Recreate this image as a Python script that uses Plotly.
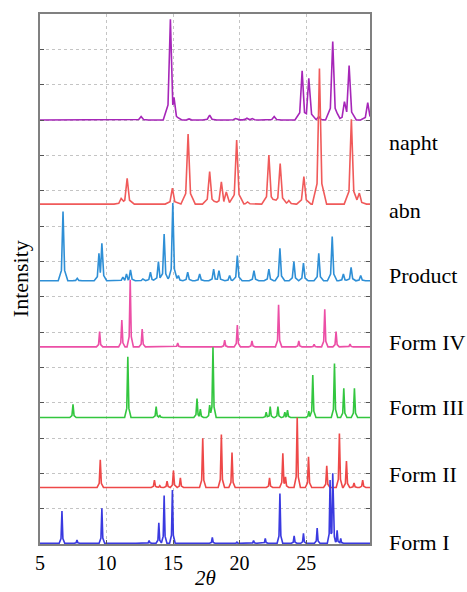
import plotly.graph_objects as go

# ---- data (2θ positions, intensity above each pattern's baseline) ----
series_names = ["napht", "abn", "Product", "Form IV", "Form III", "Form II", "Form I"]

napht_pos = [12.6, 14.8, 15.07, 16.2, 17.75, 19.7, 20.55, 20.95, 22.6, 24.7, 25.2, 25.95, 27.0, 27.88, 28.23, 29.63]
napht_int = [0.10, 2.85, 0.64, 0.03, 0.14, 0.04, 0.05, 0.04, 0.10, 1.39, 1.18, 0.10, 2.22, 0.52, 1.54, 0.49]

abn_pos = [11.1, 11.55, 14.95, 16.13, 17.75, 18.63, 19.0, 19.78, 20.6, 22.2, 23.05, 23.7, 24.83, 26.0, 28.4, 29.0]
abn_int = [0.16, 0.73, 0.45, 1.98, 0.92, 0.63, 0.34, 1.81, 0.06, 1.39, 1.15, 0.10, 0.78, 3.84, 2.40, 0.31]

product_pos = [6.73, 7.8, 9.43, 9.65, 11.23, 11.5, 11.8, 12.73, 13.3, 13.9, 14.33, 14.98, 15.4, 16.1, 17.0,
               18.05, 18.45, 19.25, 19.83, 21.08, 22.2, 23.03, 24.08, 24.8, 25.95, 26.96, 27.8, 28.38, 29.1]
product_int = [1.96, 0.07, 0.78, 1.06, 0.10, 0.19, 0.31, 0.05, 0.24, 0.54, 1.32, 2.20, 0.15, 0.24, 0.19,
               0.33, 0.29, 0.15, 0.71, 0.29, 0.33, 0.92, 0.54, 0.50, 0.78, 1.25, 0.19, 0.38, 0.15]

form4_pos = [9.48, 11.15, 11.78, 12.68, 15.35, 18.88, 19.83, 20.93, 22.93, 24.45, 25.6, 26.4, 27.25, 28.3]
form4_int = [0.43, 0.76, 1.90, 0.50, 0.11, 0.19, 0.62, 0.17, 1.19, 0.17, 0.07, 1.06, 0.43, 0.08]

form3_pos = [7.48, 11.6, 13.73, 14.0, 16.8, 17.05, 17.75, 18.0, 22.0, 22.3, 22.88, 23.4, 23.6, 25.2, 25.5, 27.13, 27.83, 28.63]
form3_int = [0.37, 1.72, 0.31, 0.07, 0.54, 0.24, 0.35, 1.99, 0.15, 0.31, 0.31, 0.15, 0.21, 0.18, 1.20, 1.53, 0.83, 0.83]

form2_pos = [9.53, 13.6, 14.0, 14.55, 15.03, 15.55, 17.23, 18.63, 19.43, 22.25, 23.25, 23.45, 24.33, 25.18, 26.55, 27.5, 28.03, 28.6, 29.25]
form2_int = [0.78, 0.21, 0.05, 0.18, 0.48, 0.27, 1.39, 1.50, 0.99, 0.27, 0.97, 0.30, 1.98, 0.87, 0.61, 1.53, 0.75, 0.13, 0.21]

form1_pos = [6.65, 7.78, 9.65, 12.0, 13.2, 13.93, 14.33, 14.95, 17.95, 19.8, 21.05, 21.93, 23.03, 24.1, 24.8, 25.83, 26.8, 27.0, 27.33, 27.6]
form1_int = [0.91, 0.09, 0.99, 0.02, 0.08, 0.58, 1.35, 1.51, 0.17, 0.03, 0.08, 0.14, 1.41, 0.21, 0.28, 0.43, 1.79, 1.98, 0.37, 0.14]

x_ticks = [5, 10, 15, 20, 25]

# ---- layout / style (not data) ----
SERIF = '"Liberation Serif", "DejaVu Serif", serif'
X_MIN, X_MAX = 5.0, 29.8
offsets = {"napht": 12.0, "abn": 9.62, "Product": 7.45, "Form IV": 5.58,
           "Form III": 3.58, "Form II": 1.6, "Form I": 0.02}
half_width = {"napht": 0.18, "abn": 0.18, "Product": 0.12, "Form IV": 0.08,
              "Form III": 0.08, "Form II": 0.08, "Form I": 0.07}
colors = {"napht": "#a626b8", "abn": "#f05a5a", "Product": "#2e8fd6", "Form IV": "#ec4fa6",
          "Form III": "#33c63f", "Form II": "#ee4848", "Form I": "#3a3ae0"}
label_y = {"napht": 11.35, "abn": 9.45, "Product": 7.59, "Form IV": 5.69,
           "Form III": 3.85, "Form II": 1.98, "Form I": 0.03}

data = {
    "napht": (napht_pos, napht_int),
    "abn": (abn_pos, abn_int),
    "Product": (product_pos, product_int),
    "Form IV": (form4_pos, form4_int),
    "Form III": (form3_pos, form3_int),
    "Form II": (form2_pos, form2_int),
    "Form I": (form1_pos, form1_int),
}


def profile(x, p, h, w):
    d = abs(x - p)
    if d <= w:
        return h - 0.85 * h * d / w
    if d <= 3 * w:
        return 0.15 * h * (1 - (d - w) / (2 * w))
    return 0.0


def outline(pos, inten, w):
    verts = {X_MIN, X_MAX}
    for p in pos:
        for k in (-3, -1, 0, 1, 3):
            v = p + k * w
            if X_MIN <= v <= X_MAX:
                verts.add(round(v, 5))
    xs = sorted(verts)
    ys = [max(profile(x, p, h, w) for p, h in zip(pos, inten)) for x in xs]
    return xs, ys


fig = go.Figure()
for name in series_names:
    pos, inten = data[name]
    xs, ys = outline(pos, inten, half_width[name])
    off = offsets[name]
    fig.add_trace(go.Scatter(x=xs, y=[v + off for v in ys], mode="lines",
                             line=dict(color=colors[name], width=1.6),
                             showlegend=False, hoverinfo="skip"))
    fig.add_annotation(x=1.05, xref="paper", y=label_y[name], yref="y", text=name,
                       showarrow=False, xanchor="left", yanchor="middle",
                       font=dict(family=SERIF, size=22, color="black"))

fig.add_annotation(x=0.5, xref="paper", y=-0.065, yref="paper", text="<i>2θ</i>",
                   showarrow=False, xanchor="center", yanchor="middle",
                   font=dict(family=SERIF, size=21, color="black"))
fig.add_annotation(x=-0.06, xref="paper", y=0.5, yref="paper", text="Intensity",
                   textangle=-90, showarrow=False, xanchor="center", yanchor="middle",
                   font=dict(family=SERIF, size=22, color="black"))

fig.update_layout(
    width=467, height=592,
    margin=dict(l=40, r=97, t=14, b=48),
    paper_bgcolor="white", plot_bgcolor="white",
    font=dict(family=SERIF, size=20, color="black"),
)
fig.update_xaxes(range=[X_MIN, X_MAX], tickvals=x_ticks, ticktext=[str(t) for t in x_ticks],
                 showgrid=True, gridcolor="#c4c4c4", griddash="dot", gridwidth=1,
                 showline=True, linecolor="#808080", linewidth=2, mirror=True,
                 ticks="inside", ticklen=4, tickcolor="#555", zeroline=False,
                 tickfont=dict(family=SERIF, size=20))
fig.update_yaxes(range=[0, 15], dtick=1, tick0=0, showticklabels=False,
                 showgrid=True, gridcolor="#c4c4c4", griddash="dot", gridwidth=1,
                 showline=True, linecolor="#808080", linewidth=2, mirror="ticks",
                 ticks="inside", ticklen=4, tickcolor="#555", zeroline=False)

fig.write_html("out.html", config={"displayModeBar": False},
               post_script="document.body.style.margin='0';document.body.style.overflow='hidden';")
